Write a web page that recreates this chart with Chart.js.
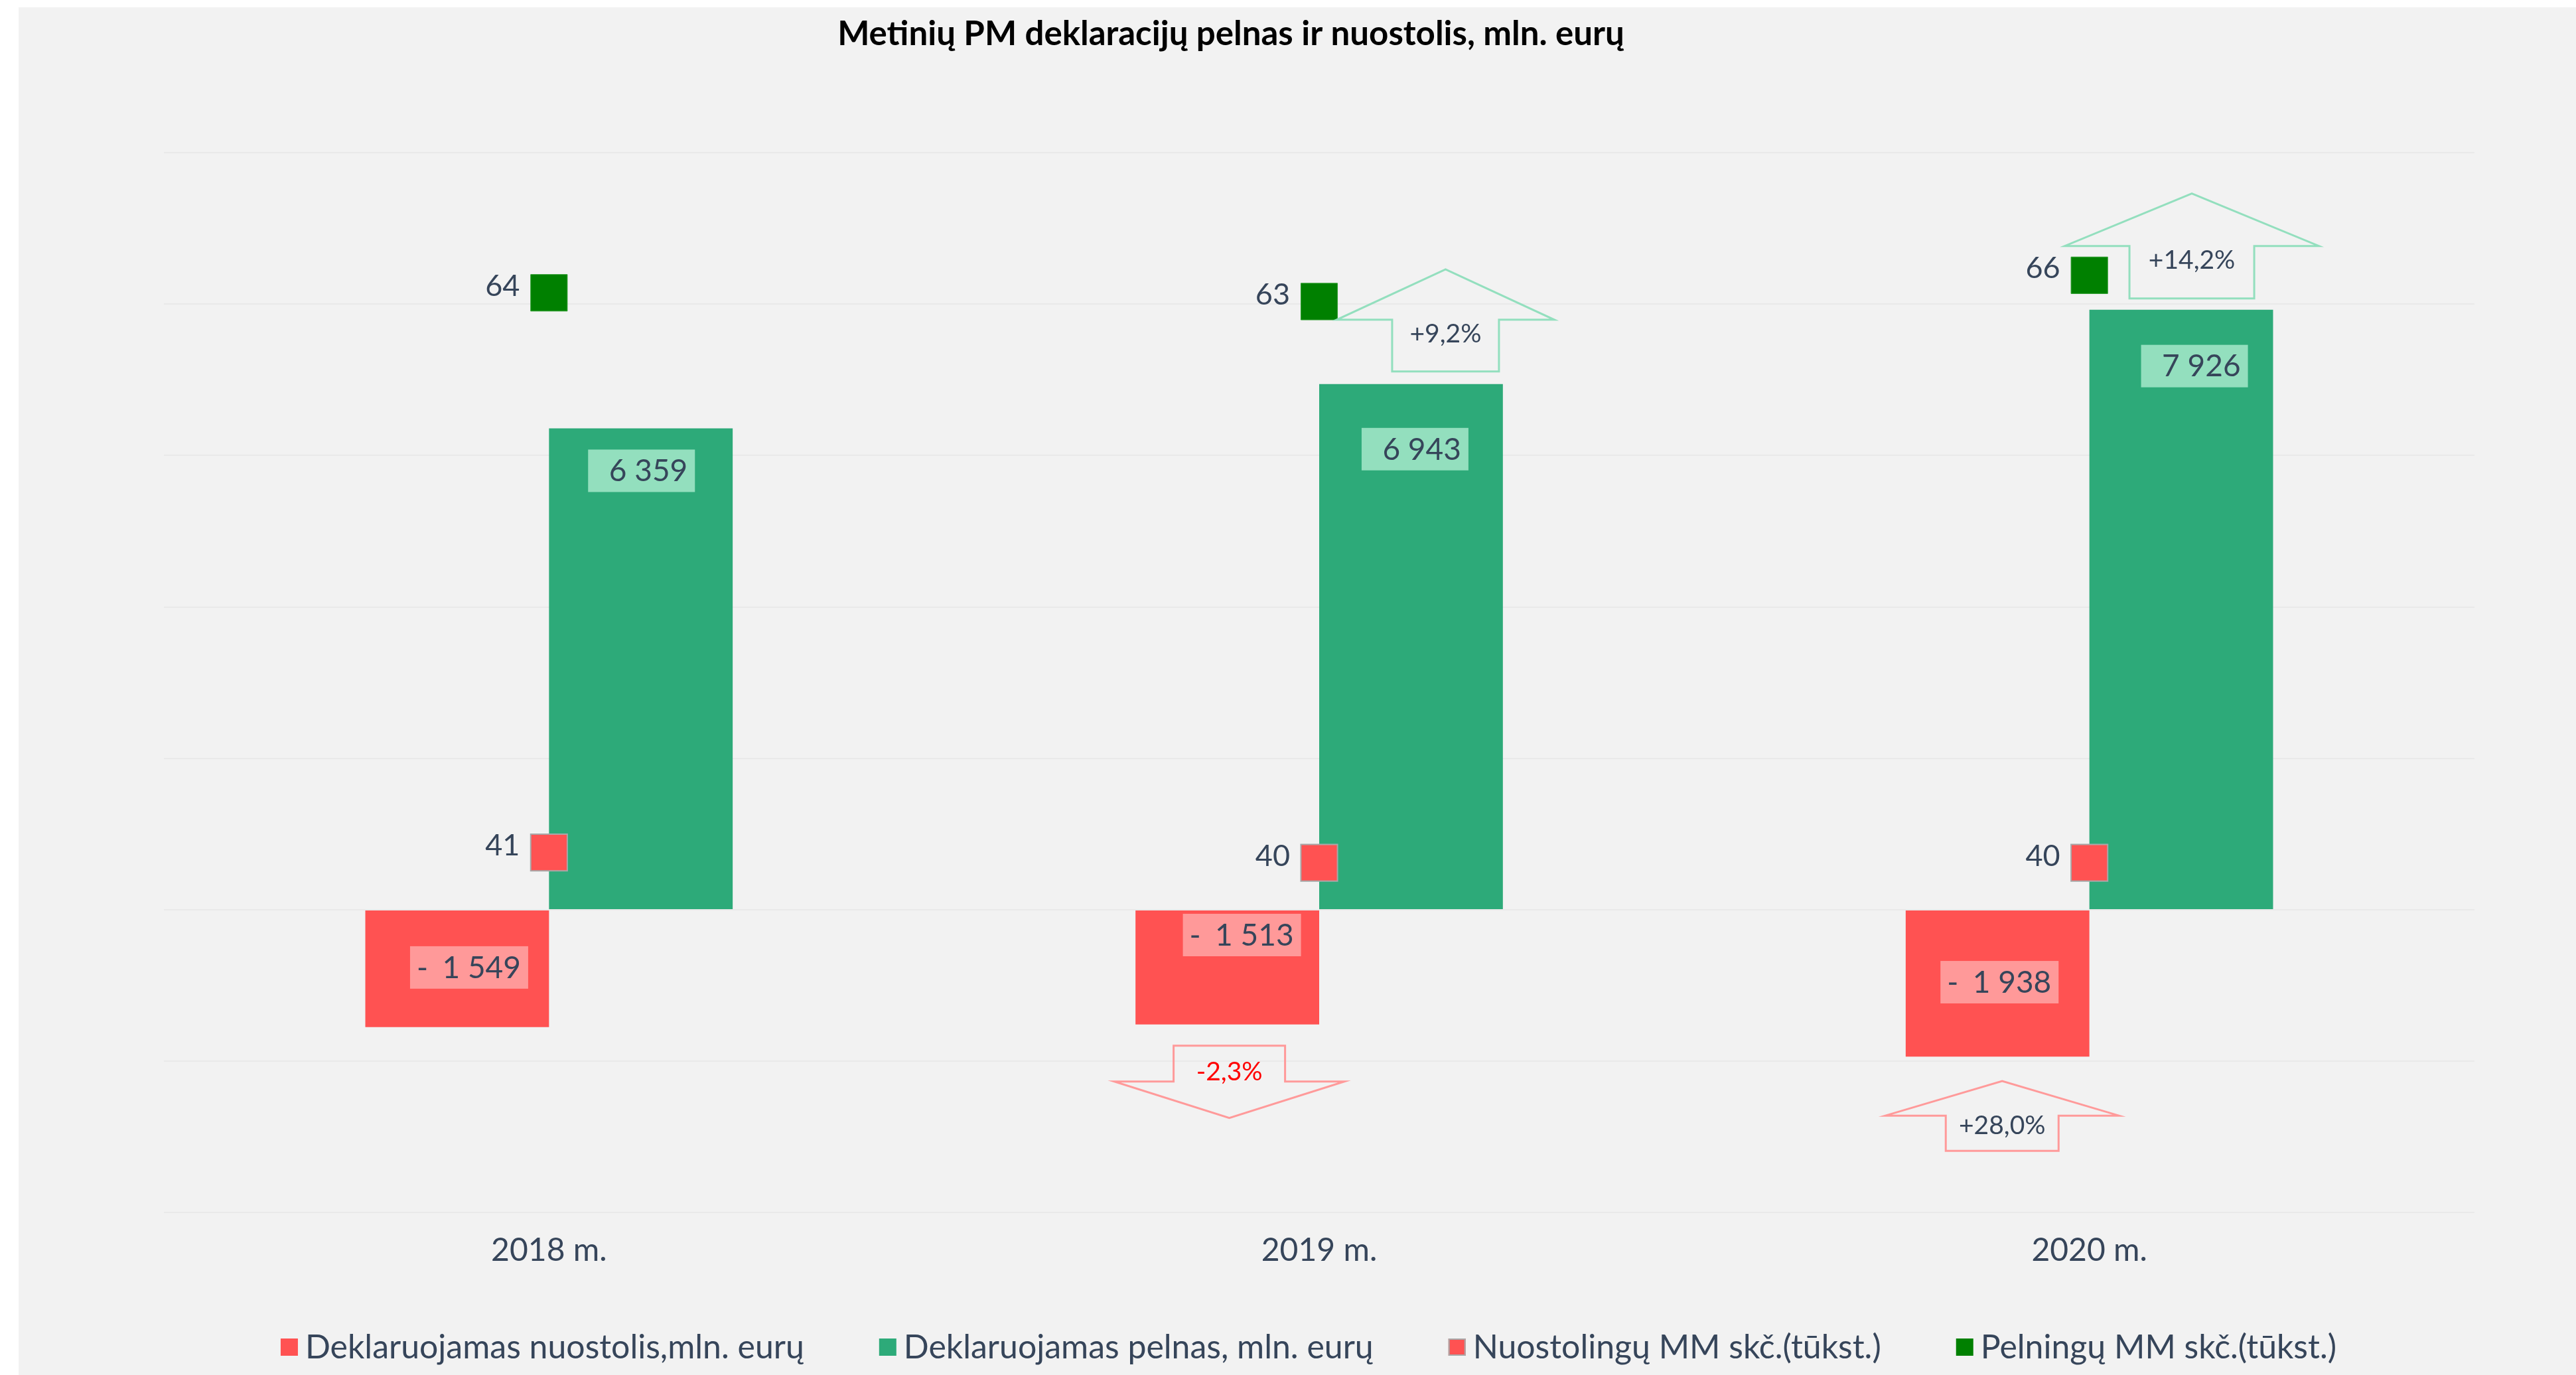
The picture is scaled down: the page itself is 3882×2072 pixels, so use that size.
<!DOCTYPE html>
<html><head><meta charset="utf-8">
<script src="https://cdn.jsdelivr.net/npm/chart.js@4.4.1/dist/chart.umd.min.js"></script>
<style>html,body{margin:0;padding:0;background:#fff;overflow:hidden}#wrap{width:3882px;height:2072px;position:relative}</style>
</head><body><div id="wrap"><canvas id="c" width="3882" height="2072"></canvas></div>
<script>
// ---------- data ----------
const years = ['2018 m.', '2019 m.', '2020 m.'];
const lossValues = [-1549, -1513, -1938];          // Deklaruojamas nuostolis, mln. eurų
const profitValues = [6359, 6943, 7926];           // Deklaruojamas pelnas, mln. eurų
const lossCompanies = [41, 40, 40];                // Nuostolingų MM skč. (tūkst.)
const profitCompanies = [64, 63, 66];              // Pelningų MM skč. (tūkst.)
const profitChangeLabels = [null, '+9,2%', '+14,2%'];
const lossChangeLabels = [null, '-2,3%', '+28,0%'];
const seriesNames = ['Deklaruojamas nuostolis,mln. eurų', 'Deklaruojamas pelnas, mln. eurų',
                     'Nuostolingų MM skč.(tūkst.)', 'Pelningų MM skč.(tūkst.)'];
const titleText = 'Metinių PM deklaracijų pelnas ir nuostolis, mln. eurų';

// ---------- style ----------
const FONT = 'Lato, "Open Sans", sans-serif';
const TEXT = '#36455A';
const RED = '#FF5252', GREEN = '#2DAA79', DGREEN = '#008000';
const RED_LIGHT = '#FF9999', GREEN_LIGHT = '#93DFBE';

function fmt(n) { return String(Math.round(n)).replace(/\B(?=(\d{3})+(?!\d))/g, ' '); }

const bgPlugin = {
  id: 'bg',
  beforeDraw(chart) {
    const c = chart.ctx; c.save();
    c.fillStyle = '#fff'; c.fillRect(0, 0, chart.width, chart.height);
    c.fillStyle = '#F2F2F2'; c.fillRect(28, 11, chart.width - 28, chart.height - 11);
    c.restore();
  }
};

const titlePlugin = {
  id: 'titleText',
  afterDraw(chart, args, o) {
    const c = chart.ctx; c.save();
    c.font = `bold 48px ${FONT}`;
    const s = 48 * o.width / c.measureText(o.text).width;
    c.font = `bold ${s}px ${FONT}`;
    c.fillStyle = '#000'; c.textAlign = 'center'; c.textBaseline = 'alphabetic';
    c.fillText(o.text, o.x, o.y);
    c.restore();
  }
};

const barLabelPlugin = {
  id: 'barLabels',
  afterDatasetsDraw(chart, args, o) {
    const c = chart.ctx; c.save();
    o.sets.forEach(cfg => {
      const meta = chart.getDatasetMeta(cfg.dataset);
      const data = chart.data.datasets[cfg.dataset].data;
      meta.data.forEach((bar, i) => {
        const v = data[i];
        const top = Math.min(bar.y, bar.base), bottom = Math.max(bar.y, bar.base);
        const cy = cfg.anchor[i] === 'center' ? (top + bottom) / 2 + cfg.dy[i] : top + cfg.dy[i] + cfg.h / 2;
        const cx = bar.x + cfg.dx[i];
        c.fillStyle = cfg.boxColor;
        c.fillRect(cx - cfg.w / 2, cy - cfg.h / 2, cfg.w, cfg.h);
        c.font = `${cfg.size}px ${FONT}`; c.fillStyle = TEXT; c.textBaseline = 'middle';
        c.textAlign = 'right';
        c.fillText(fmt(Math.abs(v)), cx + cfg.w / 2 - 11, cy + 1);
        if (v < 0) { c.textAlign = 'left'; c.fillText('-', cx - cfg.w / 2 + 10, cy + 1); }
      });
    });
    c.restore();
  }
};

const markerLabelPlugin = {
  id: 'markerLabels',
  afterDatasetsDraw(chart, args, o) {
    const c = chart.ctx; c.save();
    c.font = `${o.size}px ${FONT}`; c.fillStyle = TEXT; c.textAlign = 'right'; c.textBaseline = 'middle';
    o.datasets.forEach(di => {
      const meta = chart.getDatasetMeta(di);
      const data = chart.data.datasets[di].data;
      meta.data.forEach((pt, i) => {
        c.fillText(String(data[i]), pt.x - o.gapX, pt.y + o.dy);
      });
    });
    c.restore();
  }
};

const arrowPlugin = {
  id: 'arrows',
  afterDatasetsDraw(chart, args, o) {
    const c = chart.ctx; c.save();
    o.items.forEach(a => {
      const labels = a.labels;
      const meta = chart.getDatasetMeta(a.dataset);
      meta.data.forEach((bar, i) => {
        const text = labels[i];
        if (!text) return;
        const g = a.geom[i];
        const up = text.trim()[0] !== '-';
        const top = Math.min(bar.y, bar.base), bottom = Math.max(bar.y, bar.base);
        const total = g.sh + g.hh;
        const X = bar.x + g.dx;
        let yTop, yBot;
        if (a.side === 'above') { yBot = top - g.gap; yTop = yBot - total; }
        else { yTop = bottom + g.gap; yBot = yTop + total; }
        c.beginPath();
        let ty;
        if (up) {
          const B = yBot, S = yBot - g.sh;
          c.moveTo(X - g.sw / 2, B); c.lineTo(X - g.sw / 2, S); c.lineTo(X - g.hw / 2, S);
          c.lineTo(X, yTop); c.lineTo(X + g.hw / 2, S); c.lineTo(X + g.sw / 2, S);
          c.lineTo(X + g.sw / 2, B); c.closePath();
          ty = B - 0.72 * g.sh;
        } else {
          const T = yTop, S = yTop + g.sh;
          c.moveTo(X - g.sw / 2, T); c.lineTo(X - g.sw / 2, S); c.lineTo(X - g.hw / 2, S);
          c.lineTo(X, yBot); c.lineTo(X + g.hw / 2, S); c.lineTo(X + g.sw / 2, S);
          c.lineTo(X + g.sw / 2, T); c.closePath();
          ty = T + 0.74 * g.sh;
        }
        c.strokeStyle = a.stroke; c.lineWidth = 3; c.lineJoin = 'miter'; c.stroke();
        c.font = `${o.size}px ${FONT}`;
        c.fillStyle = up ? TEXT : '#FF0000';
        c.textAlign = 'center'; c.textBaseline = 'middle';
        c.fillText(text, X, ty);
      });
    });
    c.restore();
  }
};

const legendPlugin = {
  id: 'customLegend',
  afterDraw(chart, args, o) {
    const c = chart.ctx; c.save();
    const ds = chart.data.datasets;
    c.font = `40px ${FONT}`;
    const s = 40 * o.firstWidth / c.measureText(ds[0].label).width;
    c.font = `${s}px ${FONT}`;
    const widths = ds.map(d => c.measureText(d.label).width);
    const itemW = widths.map(w => o.box + o.boxGap + w);
    const total = itemW.reduce((a, b) => a + b, 0) + o.itemGap * (ds.length - 1);
    let x = o.centerX - total / 2;
    ds.forEach((d, i) => {
      const fill = d.legendColor || d.backgroundColor;
      c.fillStyle = fill;
      c.fillRect(x, o.y - o.box / 2, o.box, o.box);
      if (d.legendBorder) { c.strokeStyle = d.legendBorder; c.lineWidth = 2; c.strokeRect(x + 1, o.y - o.box / 2 + 1, o.box - 2, o.box - 2); }
      c.fillStyle = TEXT; c.textAlign = 'left'; c.textBaseline = 'middle';
      c.fillText(d.label, x + o.box + o.boxGap, o.y + 1);
      x += itemW[i] + o.itemGap;
    });
    c.restore();
  }
};

new Chart(document.getElementById('c'), {
  data: {
    labels: years,
    datasets: [
      { type: 'bar', label: seriesNames[0], data: lossValues, backgroundColor: RED, yAxisID: 'y',
        categoryPercentage: 0.477, barPercentage: 1.0, order: 2 },
      { type: 'bar', label: seriesNames[1], data: profitValues, backgroundColor: GREEN, yAxisID: 'y',
        categoryPercentage: 0.477, barPercentage: 1.0, order: 2 },
      { type: 'line', label: seriesNames[2], data: lossCompanies, yAxisID: 'yR', showLine: false,
        pointStyle: 'rect', pointRadius: 39, backgroundColor: RED, borderColor: '#A8A8A8',
        pointBorderWidth: 2, legendBorder: '#A8A8A8', order: 1 },
      { type: 'line', label: seriesNames[3], data: profitCompanies, yAxisID: 'yG', showLine: false,
        pointStyle: 'rect', pointRadius: 39, backgroundColor: DGREEN, borderColor: '#2E9E2E',
        pointBorderWidth: 1, order: 1 }
    ]
  },
  options: {
    responsive: false,
    animation: false,
    layout: { padding: { left: 247, right: 153, top: 230, bottom: 131 } },
    scales: {
      x: {
        grid: { display: false, drawTicks: false }, border: { display: false },
        ticks: { color: TEXT, font: { family: FONT, size: 48 }, padding: 28 }
      },
      y: {
        min: -4000, max: 10000,
        ticks: { display: false, stepSize: 2000 },
        grid: { color: '#E9E9E9', lineWidth: 2, drawTicks: false },
        border: { display: false }
      },
      yG: { display: false, min: -41, max: 80 },
      yR: { display: false, min: 6, max: 109 }
    },
    plugins: {
      legend: { display: false },
      tooltip: { enabled: false },
      titleText: { text: titleText, x: 1855, y: 68, width: 1186 },
      barLabels: {
        sets: [
          { dataset: 0, w: 178, h: 64, size: 46, boxColor: RED_LIGHT,
            anchor: ['center', 'top', 'center'], dy: [-2, 5, -2], dx: [18, 22, 3] },
          { dataset: 1, w: 161, h: 64, size: 46, boxColor: GREEN_LIGHT,
            anchor: ['top', 'top', 'top'], dy: [32, 66, 53], dx: [1, 6, 20] }
        ]
      },
      markerLabels: { datasets: [2, 3], size: 45, gapX: 44, dy: -10 },
      arrows: {
        size: 39,
        items: [
          { dataset: 1, labels: profitChangeLabels, side: 'above', stroke: GREEN_LIGHT,
            geom: [null, { dx: 52, gap: 19, sw: 161, hw: 328, sh: 78, hh: 76 },
                         { dx: 16, gap: 17, sw: 188, hw: 383, sh: 79, hh: 79 }] },
          { dataset: 0, labels: lossChangeLabels, side: 'below', stroke: '#FF9A9A',
            geom: [null, { dx: 3, gap: 32, sw: 168, hw: 347, sh: 54, hh: 55 },
                         { dx: 7, gap: 37, sw: 170, hw: 352, sh: 53, hh: 52 }] }
        ]
      },
      customLegend: { firstWidth: 752, box: 26, boxGap: 11, itemGap: 113, centerX: 1972, y: 2030 }
    }
  },
  plugins: [bgPlugin, titlePlugin, barLabelPlugin, markerLabelPlugin, arrowPlugin, legendPlugin]
});
</script></body></html>
